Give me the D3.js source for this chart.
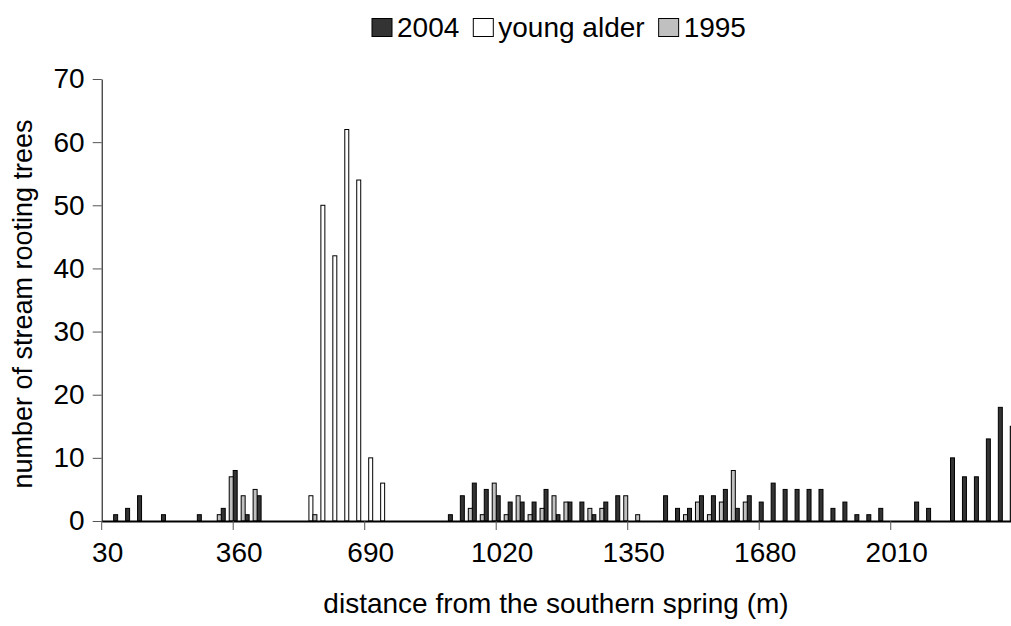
<!DOCTYPE html>
<html><head><meta charset="utf-8">
<script src="https://cdn.jsdelivr.net/npm/d3@7"></script>
<style>body{margin:0;background:#fff} svg{display:block} text{font-family:"Liberation Sans",Arial,sans-serif;fill:#000}</style>
</head><body>
<svg id="c" width="1011" height="626"></svg>
<script>
const distances = [30,60,90,120,150,180,210,240,270,300,330,360,390,420,450,480,510,540,570,600,630,660,690,720,750,780,810,840,870,900,930,960,990,1020,1050,1080,1110,1140,1170,1200,1230,1260,1290,1320,1350,1380,1410,1440,1470,1500,1530,1560,1590,1620,1650,1680,1710,1740,1770,1800,1830,1860,1890,1920,1950,1980,2010,2040,2070,2100,2130,2160,2190,2220,2250,2280,2310];
const tickLabels = [30,360,690,1020,1350,1680,2010];
const yTicks = [0,10,20,30,40,50,60,70];
const seriesNames = ["2004","young alder","1995"];
const seriesColors = ["#333333","#ffffff","#c0c0c0"];
const v2004 = [0,1,2,4,0,1,0,0,1,0, 2,8,1,4,0,0,0,0,0,0, 0,0,0,0,0,0,0,0,0,1, 4,6,5,4,3,3,3,5,1,3, 3,1,3,4,0,0,0,4,2,2, 4,4,5,2,4,3,6,5,5,5, 5,2,3,1,1,2,0,0,3,2, 0,10,7,7,13,18,15];
const vYoung = [0,0,0,0,0,0,0,0,0,0, 0,0,0,0,0,0,0,4,50,42, 62,54,10,6,0,0,0,0,0,0, 0,0,0,0,0,0,0,0,0,0, 0,0,0,0,0,0,0,0,0,0, 0,0,0,0,0,0,0,0,0,0, 0,0,0,0,0,0,0,0,0,0, 0,0,0,0,0,0,0];
const v1995 = [0,0,0,0,0,0,0,0,0,1, 7,4,5,0,0,0,0,1,0,0, 0,0,0,0,0,0,0,0,0,0, 2,1,6,1,4,1,2,4,3,0, 2,2,0,4,1,0,0,0,1,3, 1,3,8,3,0,0,0,0,0,0, 0,0,0,0,0,0,0,0,0,0, 0,0,0,0,0,0,0];
const seriesValues = [v2004, vYoung, v1995];

(function(){
const svg = d3.select("#c");
const pLeft = 101.7, catW = 11.955, pTop = 79, pBase = 521;
const x = d3.scaleBand().domain(distances).range([pLeft, pLeft + distances.length*catW]).padding(0);
const xs = d3.scaleBand().domain(seriesNames).range([0, x.bandwidth()]).padding(0);
const y = d3.scaleLinear().domain([0,70]).range([pBase, pTop]);

const bars = [];
seriesNames.forEach((s,si)=>{
  seriesValues[si].forEach((v,i)=>{ if(v>0) bars.push({s, si, d:distances[i], v}); });
});
svg.append("g").selectAll("rect").data(bars).join("rect")
  .attr("x", d=>x(d.d)+xs(d.s))
  .attr("y", d=>y(d.v))
  .attr("width", xs.bandwidth())
  .attr("height", d=>y(0)-y(d.v))
  .attr("fill", d=>seriesColors[d.si])
  .attr("stroke", "#000").attr("stroke-width", 1);

const ya = svg.append("g").attr("transform", `translate(${pLeft},0)`)
  .call(d3.axisLeft(y).tickValues(yTicks).tickSize(9).tickPadding(8).tickSizeOuter(0));
ya.select(".domain").attr("stroke","#000");
ya.selectAll(".tick line").attr("stroke","#555");
ya.selectAll(".tick text").attr("font-size","28px").attr("font-family","Liberation Sans, Arial, sans-serif").attr("fill","#000");

const xa = svg.append("g").attr("transform", `translate(0,${pBase})`)
  .call(d3.axisBottom(x).tickValues(tickLabels).tickSize(9).tickPadding(12).tickSizeOuter(0));
xa.select(".domain").attr("stroke","#000").attr("stroke-width",2);
xa.selectAll(".tick line").attr("x1", -x.bandwidth()/2).attr("x2", -x.bandwidth()/2).attr("stroke","#555");
xa.selectAll(".tick text").attr("font-size","28px").attr("font-family","Liberation Sans, Arial, sans-serif").attr("fill","#000");

svg.append("text").attr("x", 556).attr("y", 613).attr("text-anchor","middle")
  .attr("font-size","28px").text("distance from the southern spring (m)");
svg.append("text").attr("transform","translate(32,304) rotate(-90)").attr("text-anchor","middle")
  .attr("font-size","27px").text("number of stream rooting trees");

let lx = 372;
const lg = svg.append("g");
seriesNames.forEach((s,i)=>{
  lg.append("rect").attr("x", lx).attr("y", 18.5).attr("width", 20).attr("height", 18)
    .attr("fill", seriesColors[i]).attr("stroke","#000").attr("stroke-width",1);
  const t = lg.append("text").attr("x", lx+25).attr("y", 37).attr("font-size","28px").text(s);
  lx = lx + 25 + t.node().getComputedTextLength() + 14;
});
})();
</script>
</body></html>
